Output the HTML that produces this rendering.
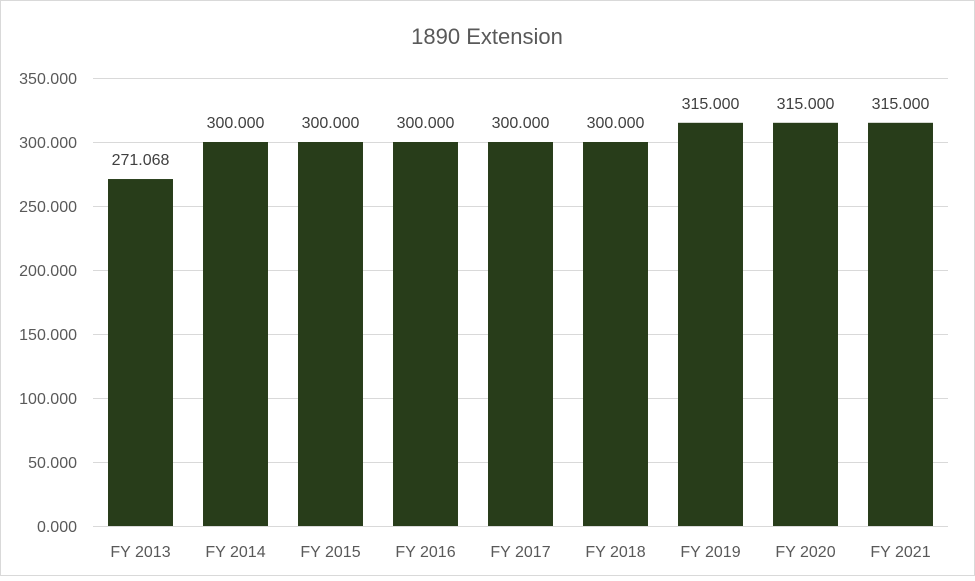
<!DOCTYPE html>
<html>
<head>
<meta charset="utf-8">
<style>
  html,body{margin:0;padding:0;background:#fff;}
  body{width:975px;height:576px;overflow:hidden;}
  svg text{font-family:"Liberation Sans",sans-serif;}
</style>
</head>
<body>
<svg id="chart" width="975" height="576" xmlns="http://www.w3.org/2000/svg">
  <rect x="0.5" y="0.5" width="974" height="575" fill="#fff" stroke="#d9d9d9"/>
  <text x="487" y="44" text-anchor="middle" font-size="22" fill="#595959">1890 Extension</text>
  <g id="grid"></g>
  <g id="bars"></g>
  <g id="labels"></g>
</svg>
<script>
const categories = ["FY 2013","FY 2014","FY 2015","FY 2016","FY 2017","FY 2018","FY 2019","FY 2020","FY 2021"];
const values = [271.068,300,300,300,300,300,315,315,315];
const valueLabels = ["271.068","300.000","300.000","300.000","300.000","300.000","315.000","315.000","315.000"];
const yTicks = [0,50,100,150,200,250,300,350];
const yTickLabels = ["0.000","50.000","100.000","150.000","200.000","250.000","300.000","350.000"];

const NS="http://www.w3.org/2000/svg";
const plotL=93, plotR=948, plotTop=78, plotBot=526, yMax=350;
const y = v => plotBot - v/yMax*(plotBot-plotTop);
const band = (plotR-plotL)/categories.length;
const barW = band*0.684;
const xC = i => plotL + band*(i+0.5);
function mk(tag, attrs, parent){const e=document.createElementNS(NS,tag);for(const k in attrs)e.setAttribute(k,attrs[k]);parent.appendChild(e);return e;}
const grid=document.getElementById('grid'), bars=document.getElementById('bars'), labels=document.getElementById('labels');
yTicks.forEach((t,i)=>{
  const l=mk('line',{x1:plotL,x2:plotR,y1:y(t)+0.5,y2:y(t)+0.5,stroke:'#d9d9d9','stroke-width':1},grid);
  
  
  const tx=mk('text',{x:77,y:y(t)+6,'text-anchor':'end','font-size':16,fill:'#595959'},labels);
  tx.textContent=yTickLabels[i];
  
  
});
categories.forEach((c,i)=>{
  const r=mk('rect',{x:xC(i)-barW/2,y:y(values[i]),width:barW,height:plotBot-y(values[i]),fill:'#283d1a'},bars);
  
  
  const vl=mk('text',{x:xC(i),y:y(values[i])-14,'text-anchor':'middle','font-size':16,fill:'#404040'},labels);
  vl.textContent=valueLabels[i];
  
  
  const cl=mk('text',{x:xC(i),y:557,'text-anchor':'middle','font-size':16,fill:'#595959'},labels);
  cl.textContent=c;
  
  
});
</script>
</body>
</html>
